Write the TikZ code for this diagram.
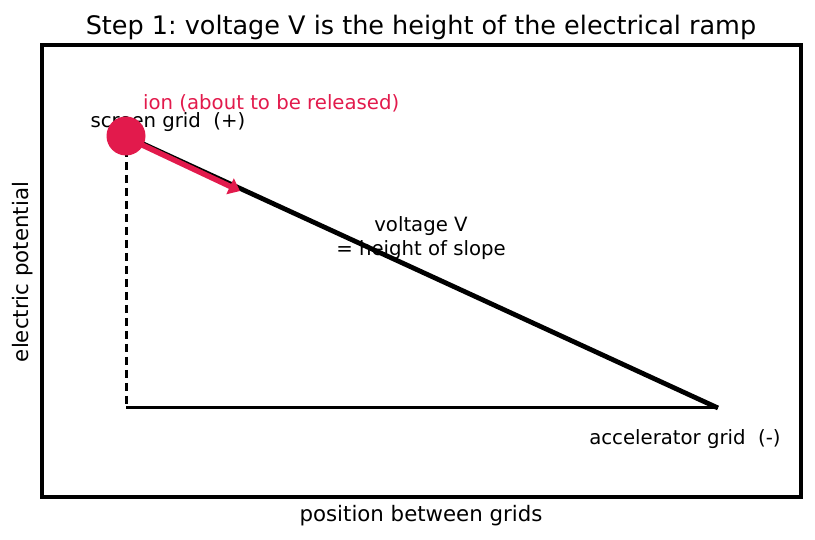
\documentclass[tikz,border=0pt]{standalone}
\usepackage{fontspec}
\setmainfont{DejaVu Sans}
\usetikzlibrary{arrows.meta}
\definecolor{ioncol}{RGB}{226,26,76}
\frenchspacing
\tikzset{
  lbl/.style={font=\fontsize{21.3}{25}\selectfont, inner sep=0pt},
  ttl/.style={font=\fontsize{25.5}{30}\selectfont, inner sep=0pt},
  ann/.style={font=\fontsize{19.7}{24}\selectfont, inner sep=0pt, align=center},
}
\begin{document}
\begin{tikzpicture}[x=1pt,y=-1pt]
\useasboundingbox (0,0) rectangle (815,540);
\draw[line width=3.05pt] (42,45) rectangle (801,497);
\node[ttl] (title) at (421,27) {Step 1: voltage V is the height of the electrical ramp};
\node[lbl, rotate=90] (ylab) at (23,272) {electric potential};
\node[lbl] (xlab) at (421,516) {position between grids};
\coordinate (top) at (126,136);
\coordinate (base) at (126,408);
\coordinate (acc) at (718,408);
\draw[line width=3pt, dash pattern=on 8pt off 5pt] (top) -- (base);
\draw[line width=3pt] (base) -- (acc);
\draw[line width=4.8pt] (top) -- (acc);
\node[ann] (vlab) at (421,238) {voltage V\\= height of slope};
\node[ann] (acclab) at (685,439) {accelerator grid\ \ (-)};
\node[ann] (sglab) at (168,122) {screen grid\ \ (+)};
\node[circle, fill=ioncol, minimum size=39pt, inner sep=0pt] (ion) at (top) {};
\coordinate (arrstart) at (138,143);
\coordinate (arrend) at (240,191);
\draw[ioncol, line width=5.5pt, -{Triangle[length=11pt,width=17pt]}] (arrstart) -- (arrend);
\node[ann, text=ioncol, anchor=west] (ionlab) at (143,103) {ion (about to be released)};
\end{tikzpicture}
\end{document}
